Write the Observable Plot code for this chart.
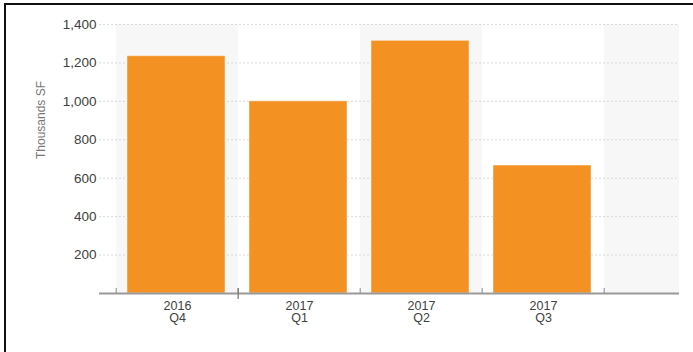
<!DOCTYPE html>
<html>
<head>
<meta charset="utf-8">
<script src="https://cdn.jsdelivr.net/npm/d3@7"></script>
<script src="https://cdn.jsdelivr.net/npm/@observablehq/plot@0.6"></script>
<style>
  html, body { margin: 0; padding: 0; background: #fff; }
  #wrap { position: relative; width: 693px; height: 352px; overflow: hidden; font-family: "Liberation Sans", Arial, sans-serif; }
  #frame { position: absolute; left: 4px; top: 3px; width: 720px; height: 380px; border-top: 2px solid #111; border-left: 2px solid #111; }
  #chart { position: absolute; left: 0; top: 0; }
</style>
</head>
<body>
<div id="wrap"><div id="frame"></div><div id="chart"></div></div>
<script>
// Data
const categories = ["2016 Q4", "2017 Q1", "2017 Q2", "2017 Q3"];
const years = ["2016", "2017", "2017", "2017"];
const quarters = ["Q4", "Q1", "Q2", "Q3"];
const values = [1235, 1000, 1315, 666];
const bandCategories = ["2016 Q4", "2017 Q1", "2017 Q2", "2017 Q3", "2017 Q4"];
const shadedBands = ["2016 Q4", "2017 Q2", "2017 Q4"];
const yTicks = [200, 400, 600, 800, 1000, 1200, 1400];
const yLabel = "Thousands SF";

const data = categories.map((c, i) => ({cat: c, value: values[i], year: years[i], quarter: quarters[i]}));

const xRange = [114, 727];
const step = (xRange[1] - xRange[0]) / bandCategories.length;

const chart = Plot.plot({
  width: 693,
  height: 352,
  marginLeft: 99,
  marginRight: 14,
  marginTop: 24,
  marginBottom: 59,
  style: {fontFamily: "'Liberation Sans', Arial, sans-serif", background: "transparent"},
  x: {type: "band", domain: bandCategories, range: xRange, padding: 0, axis: null},
  y: {domain: [0, 1400], axis: null},
  marks: [
    Plot.cell(shadedBands, {x: d => d, fill: "#f7f7f7", clip: true}),
    Plot.ruleY(yTicks, {stroke: "#d9d9d9", strokeDasharray: "2,2", strokeWidth: 1}),
    Plot.barY(data, {x: "cat", y: "value", fill: "#F39123", stroke: "#ffffff", strokeOpacity: 0.45, strokeWidth: 1, insetLeft: 11, insetRight: 13}),
    Plot.ruleY([0], {stroke: "#999", strokeWidth: 2}),
    Plot.ruleX(bandCategories, {x: d => d, y1: 0, y2: 0, dx: -step / 2, insetTop: -5, stroke: "#888", strokeWidth: 1}),
    Plot.ruleX(["2017 Q1"], {x: d => d, y1: 0, y2: 0, dx: -step / 2, insetTop: -5, insetBottom: -6, stroke: "#777", strokeWidth: 1.2}),
    Plot.text(yTicks, {y: d => d, text: d => d3.format(",")(d), frameAnchor: "left", textAnchor: "end", dx: -3, fontSize: 13.5, fill: "#404040", letterSpacing: "0.3px"}),
    Plot.text([yLabel], {text: d => d, frameAnchor: "left", rotate: -90, dx: -58, fontSize: 12, fill: "#777"}),
    Plot.text(data, {x: "cat", text: "year", frameAnchor: "bottom", lineAnchor: "top", dy: 7.5, fontSize: 12.5, fill: "#404040", letterSpacing: "0.9px"}),
    Plot.text(data, {x: "cat", text: "quarter", frameAnchor: "bottom", lineAnchor: "top", dy: 20, fontSize: 12.5, fill: "#404040", letterSpacing: "0.9px"})
  ]
});
document.getElementById("chart").appendChild(chart);
</script>
</body>
</html>
